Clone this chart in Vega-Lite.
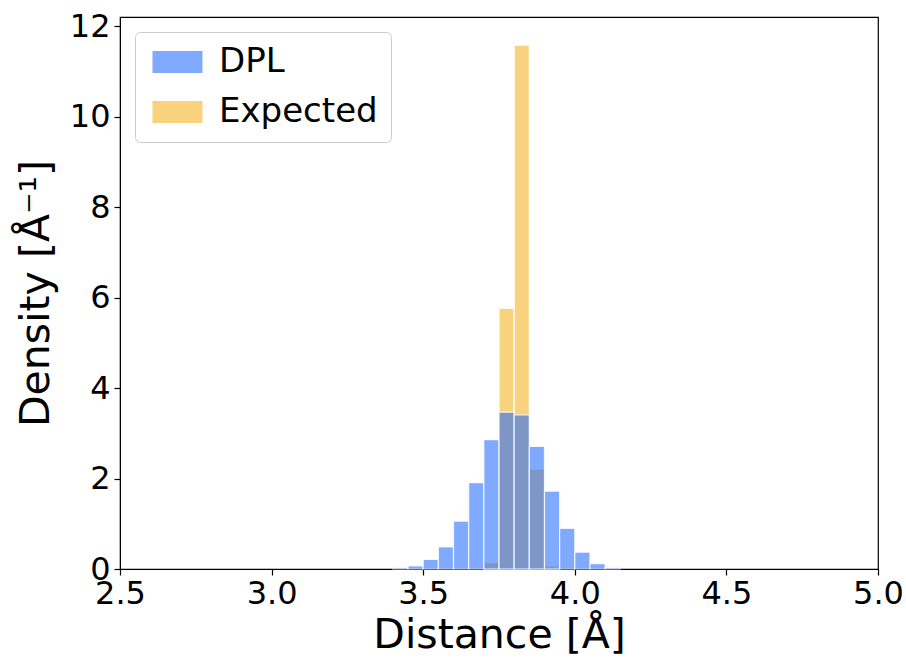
{
  "$schema": "https://vega.github.io/schema/vega-lite/v6.json",
  "autosize": "none",
  "width": 758,
  "height": 552,
  "padding": {"left": 120, "top": 17, "right": 28, "bottom": 92},
  "background": "white",
  "config": {
    "font": "DejaVu Sans",
    "view": {"stroke": "black", "strokeWidth": 1.2},
    "axis": {
      "labelFont": "DejaVu Sans", "titleFont": "DejaVu Sans",
      "labelFontSize": 32, "titleFontSize": 41, "titleFontWeight": "normal",
      "labelColor": "black", "titleColor": "black", "labelFlush": false, "labelOverlap": false,
      "domainColor": "black", "tickColor": "black", "tickSize": 6, "tickWidth": 1.2,
      "grid": false
    }
  },
  "data": {"values": [
    {"series": "Expected", "start": 3.70, "end": 3.75, "density": 0.14},
    {"series": "Expected", "start": 3.75, "end": 3.80, "density": 5.77},
    {"series": "Expected", "start": 3.80, "end": 3.85, "density": 11.59},
    {"series": "Expected", "start": 3.85, "end": 3.90, "density": 2.21},
    {"series": "Expected", "start": 3.90, "end": 3.95, "density": 0.07},
    {"series": "DPL", "start": 3.40, "end": 3.45, "density": 0.03},
    {"series": "DPL", "start": 3.45, "end": 3.50, "density": 0.07},
    {"series": "DPL", "start": 3.50, "end": 3.55, "density": 0.21},
    {"series": "DPL", "start": 3.55, "end": 3.60, "density": 0.49},
    {"series": "DPL", "start": 3.60, "end": 3.65, "density": 1.06},
    {"series": "DPL", "start": 3.65, "end": 3.70, "density": 1.91},
    {"series": "DPL", "start": 3.70, "end": 3.75, "density": 2.86},
    {"series": "DPL", "start": 3.75, "end": 3.80, "density": 3.47},
    {"series": "DPL", "start": 3.80, "end": 3.85, "density": 3.41},
    {"series": "DPL", "start": 3.85, "end": 3.90, "density": 2.71},
    {"series": "DPL", "start": 3.90, "end": 3.95, "density": 1.72},
    {"series": "DPL", "start": 3.95, "end": 4.00, "density": 0.90},
    {"series": "DPL", "start": 4.00, "end": 4.05, "density": 0.37},
    {"series": "DPL", "start": 4.05, "end": 4.10, "density": 0.12},
    {"series": "DPL", "start": 4.10, "end": 4.15, "density": 0.03}
  ]},
  "encoding": {
    "x": {"field": "start", "type": "quantitative",
      "scale": {"domain": [2.5, 5.0], "nice": false, "zero": false},
      "axis": {"values": [2.5, 3.0, 3.5, 4.0, 4.5, 5.0], "format": ".1f", "title": "Distance [Å]", "labelPadding": 3, "titlePadding": 6}},
    "x2": {"field": "end"},
    "y": {"field": "density", "type": "quantitative",
      "scale": {"domain": [0, 12.21], "nice": false},
      "axis": {"values": [0, 2, 4, 6, 8, 10, 12], "title": "Density [Å⁻¹]", "labelPadding": 4, "titlePadding": 12}}
  },
  "layer": [
    {"transform": [{"filter": "datum.series === 'Expected'"}],
     "mark": {"type": "rect", "stroke": "white", "strokeWidth": 1.2},
     "encoding": {
       "color": {"field": "series", "type": "nominal",
         "scale": {"domain": ["DPL", "Expected"], "range": ["#80AAFF", "#F9D27E"]},
         "legend": {
           "title": null, "orient": "top-left", "offset": 15,
           "labelFontSize": 34, "labelFont": "DejaVu Sans", "labelColor": "black",
           "symbolType": "M-1,-0.88H3V0.88H-1Z", "symbolSize": 625, "symbolStrokeWidth": 0, "symbolOpacity": 1,
           "rowPadding": 16, "labelOffset": 37,
           "padding": 13, "strokeColor": "#cccccc", "fillColor": "white", "cornerRadius": 5
         }}
     }},
    {"transform": [{"filter": "datum.series === 'DPL'"}],
     "mark": {"type": "rect", "fill": "#1864FF", "fillOpacity": 0.55, "stroke": "white", "strokeWidth": 1.2, "strokeOpacity": 0.8}}
  ]
}
